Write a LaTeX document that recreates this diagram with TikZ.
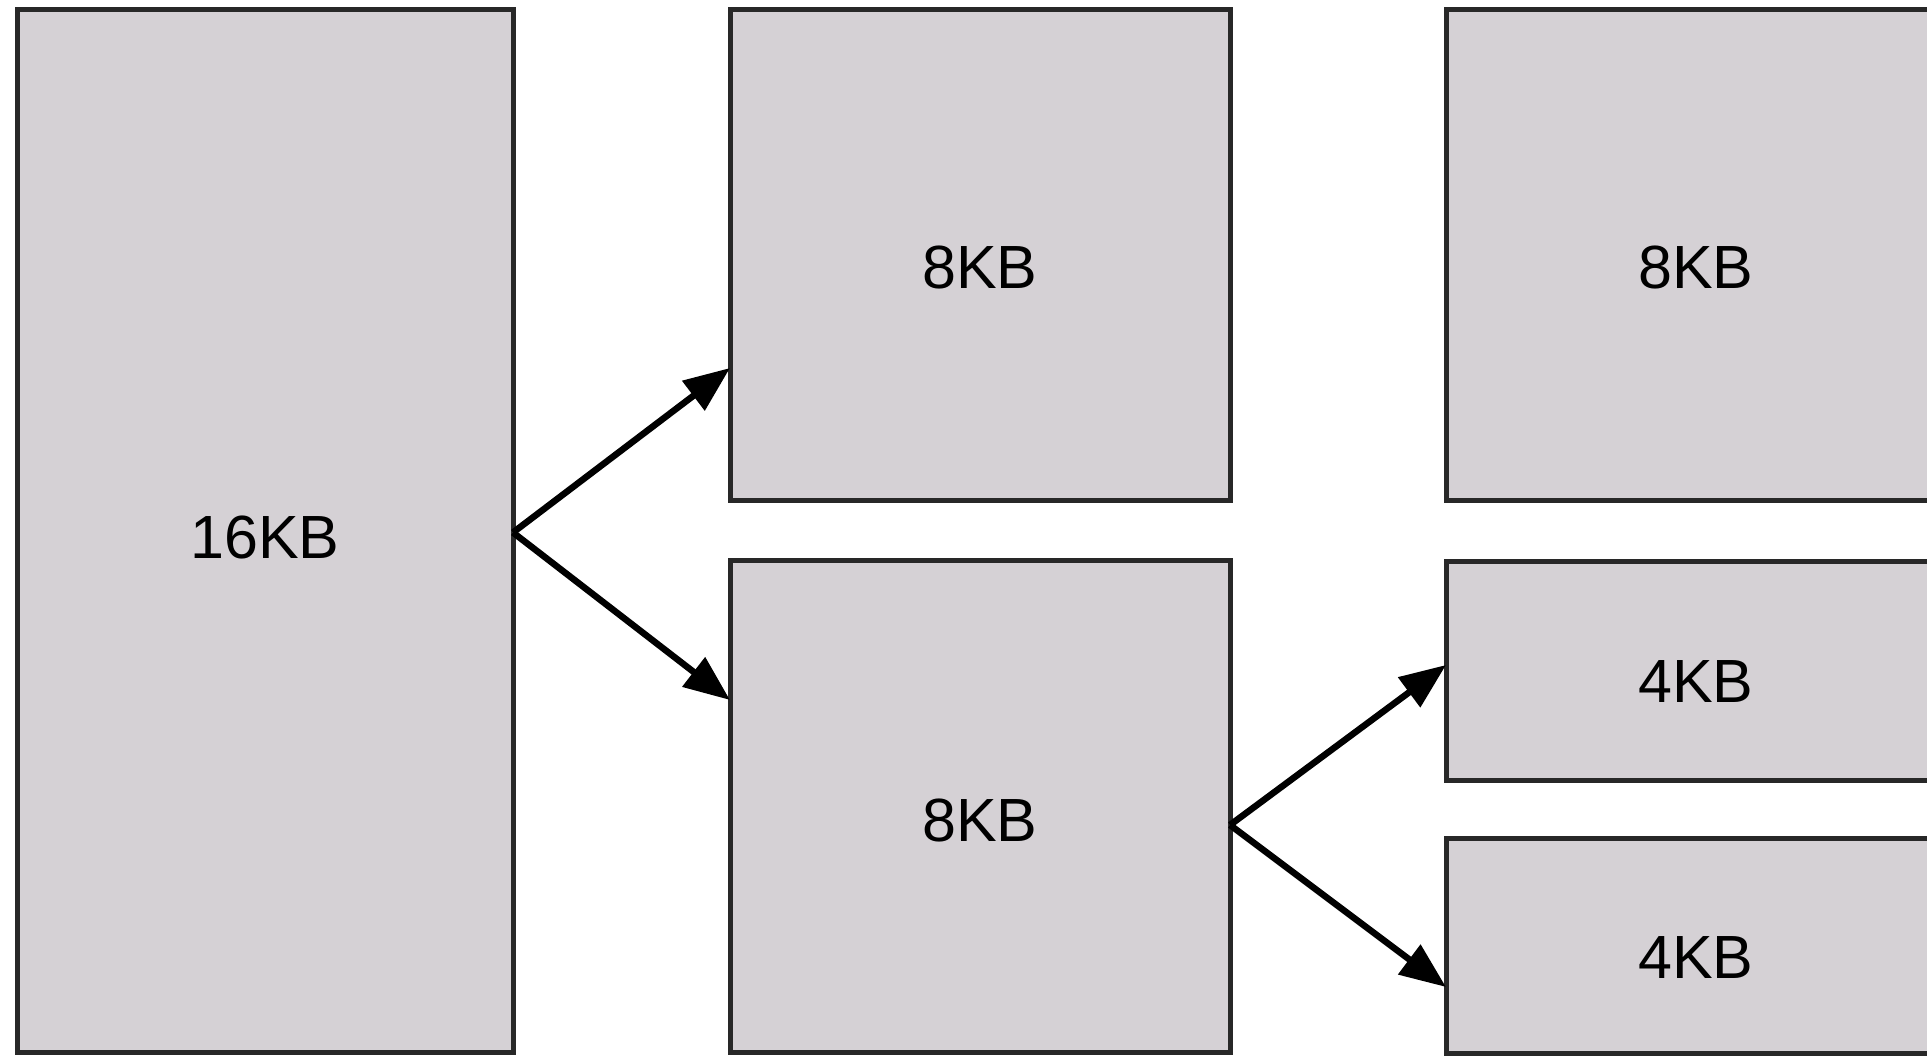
\documentclass[tikz,border=0pt]{standalone}
\usepackage{fontspec}
\setmainfont{Liberation Sans}
\usetikzlibrary{arrows.meta}
\definecolor{blockfill}{RGB}{213,209,213}
\definecolor{blockedge}{RGB}{40,40,40}
\tikzset{
  block/.style={draw=blockedge, line width=5pt, fill=blockfill, rectangle,
    inner sep=0pt, outer sep=0pt},
  lbl/.style={font=\fontsize{61}{72}\selectfont, text height=44pt, text depth=0pt,
    inner sep=0pt, anchor=center},
  split/.style={line width=6.5pt, -{Triangle[length=46pt,width=36pt]}},
}
\begin{document}
\begin{tikzpicture}[x=1pt,y=-1pt]
  \useasboundingbox (0,0) rectangle (1927,1055);
  % memory blocks
  \node[block, minimum width=496pt, minimum height=1043pt] (a) at (265,530.5) {};
  \node[block, minimum width=500pt, minimum height=491pt] (b) at (980,254.5) {};
  \node[block, minimum width=500pt, minimum height=492pt] (c) at (980,806) {};
  \node[block, minimum width=500pt, minimum height=491pt] (d) at (1696,254.5) {};
  \node[block, minimum width=500pt, minimum height=219pt] (e) at (1696,670.5) {};
  \node[block, minimum width=500pt, minimum height=215pt] (f) at (1696,945.5) {};
  % sizes
  \node[lbl] (ta) at ([yshift=-6pt]a.center) {16KB};
  \node[lbl] (tb) at ([yshift=-12pt]b.center) {8KB};
  \node[lbl] (tc) at ([yshift=-13pt]c.center) {8KB};
  \node[lbl] (td) at ([yshift=-12pt]d.center) {8KB};
  \node[lbl] (te) at ([yshift=-10pt]e.center) {4KB};
  \node[lbl] (tf) at ([yshift=-11pt]f.center) {4KB};
  % splitting arrows
  \draw[split] ([yshift=-2pt]a.east) -- ([yshift=-113.5pt]b.west);
  \draw[split] ([yshift=-2pt]a.east) -- ([yshift=106pt]c.west);
  \draw[split] ([yshift=-19pt]c.east) -- ([yshift=5.5pt]e.west);
  \draw[split] ([yshift=-19pt]c.east) -- ([yshift=-41.5pt]f.west);
\end{tikzpicture}
\end{document}
